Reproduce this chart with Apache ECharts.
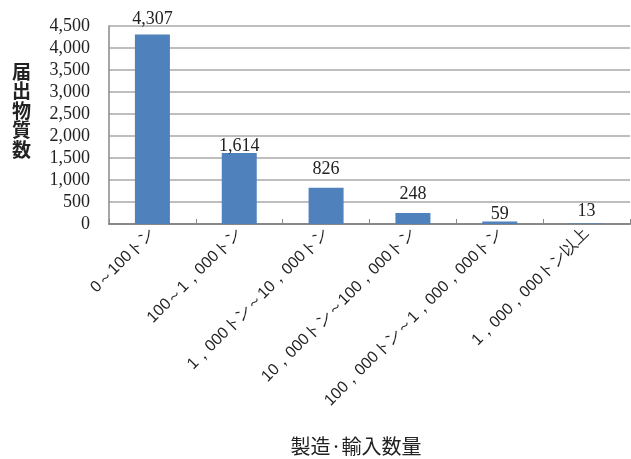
<!DOCTYPE html>
<html><head><meta charset="utf-8">
<script src="https://cdn.jsdelivr.net/npm/echarts@6/dist/echarts.min.js"></script>
<style>html,body{margin:0;padding:0;background:#fff}#c{width:631px;height:459px}</style>
</head><body><div id="c"></div>
<script>
const categories = ['0～100トン','100～1，000トン','1，000トン～10，000トン','10，000トン～100，000トン','100，000トン～1，000，000トン','1，000，000トン以上'];
const values = [4307, 1614, 826, 248, 59, 13];
const yTicks = [0, 500, 1000, 1500, 2000, 2500, 3000, 3500, 4000, 4500];
const labelLift = [-6, 2, -9, -10, 2, -3];
const chart = echarts.init(document.getElementById('c'));
chart.setOption({
  animation: false,
  grid: {left: 109, right: 1, top: 26, bottom: 235},
  xAxis: {
    type: 'category', data: categories,
    axisLine: {lineStyle: {color: '#888', width: 2}},
    axisTick: {show: true, inside: true, length: 5, lineStyle: {color: '#888'}},
    axisLabel: {rotate: 45, fontFamily: 'Liberation Sans', fontSize: 16, color: '#222', margin: 7},
    name: '製造·輸入数量', nameLocation: 'middle', nameGap: 212,
    nameTextStyle: {fontFamily: 'Noto Sans CJK JP', fontSize: 20, color: '#222', padding: [0, 0, 0, -27]}
  },
  yAxis: {
    type: 'value', min: yTicks[0], max: yTicks[yTicks.length - 1], interval: yTicks[1] - yTicks[0],
    axisLine: {show: true, lineStyle: {color: '#888', width: 1.5}},
    axisTick: {show: false},
    splitLine: {lineStyle: {color: '#a8a8a8', width: 1.5}},
    axisLabel: {fontFamily: 'Liberation Serif', fontSize: 18, color: '#222', margin: 19,
      formatter: v => v.toLocaleString('en-US')}
  },
  graphic: [{type: 'text', left: 12, top: 62,
    style: {text: '届\n出\n物\n質\n数', font: 'bold 19px "Noto Sans CJK JP"', fill: '#222', lineHeight: 19.5}}],
  series: [{
    type: 'bar', barWidth: 35,
    data: values.map((v, i) => ({value: v, label: {offset: [0, labelLift[i]]}})),
    itemStyle: {color: '#4f81bd'},
    label: {show: true, position: 'top', fontFamily: 'Liberation Serif', fontSize: 18, color: '#222', distance: 0,
      formatter: p => p.value.toLocaleString('en-US')}
  }]
});
</script></body></html>
